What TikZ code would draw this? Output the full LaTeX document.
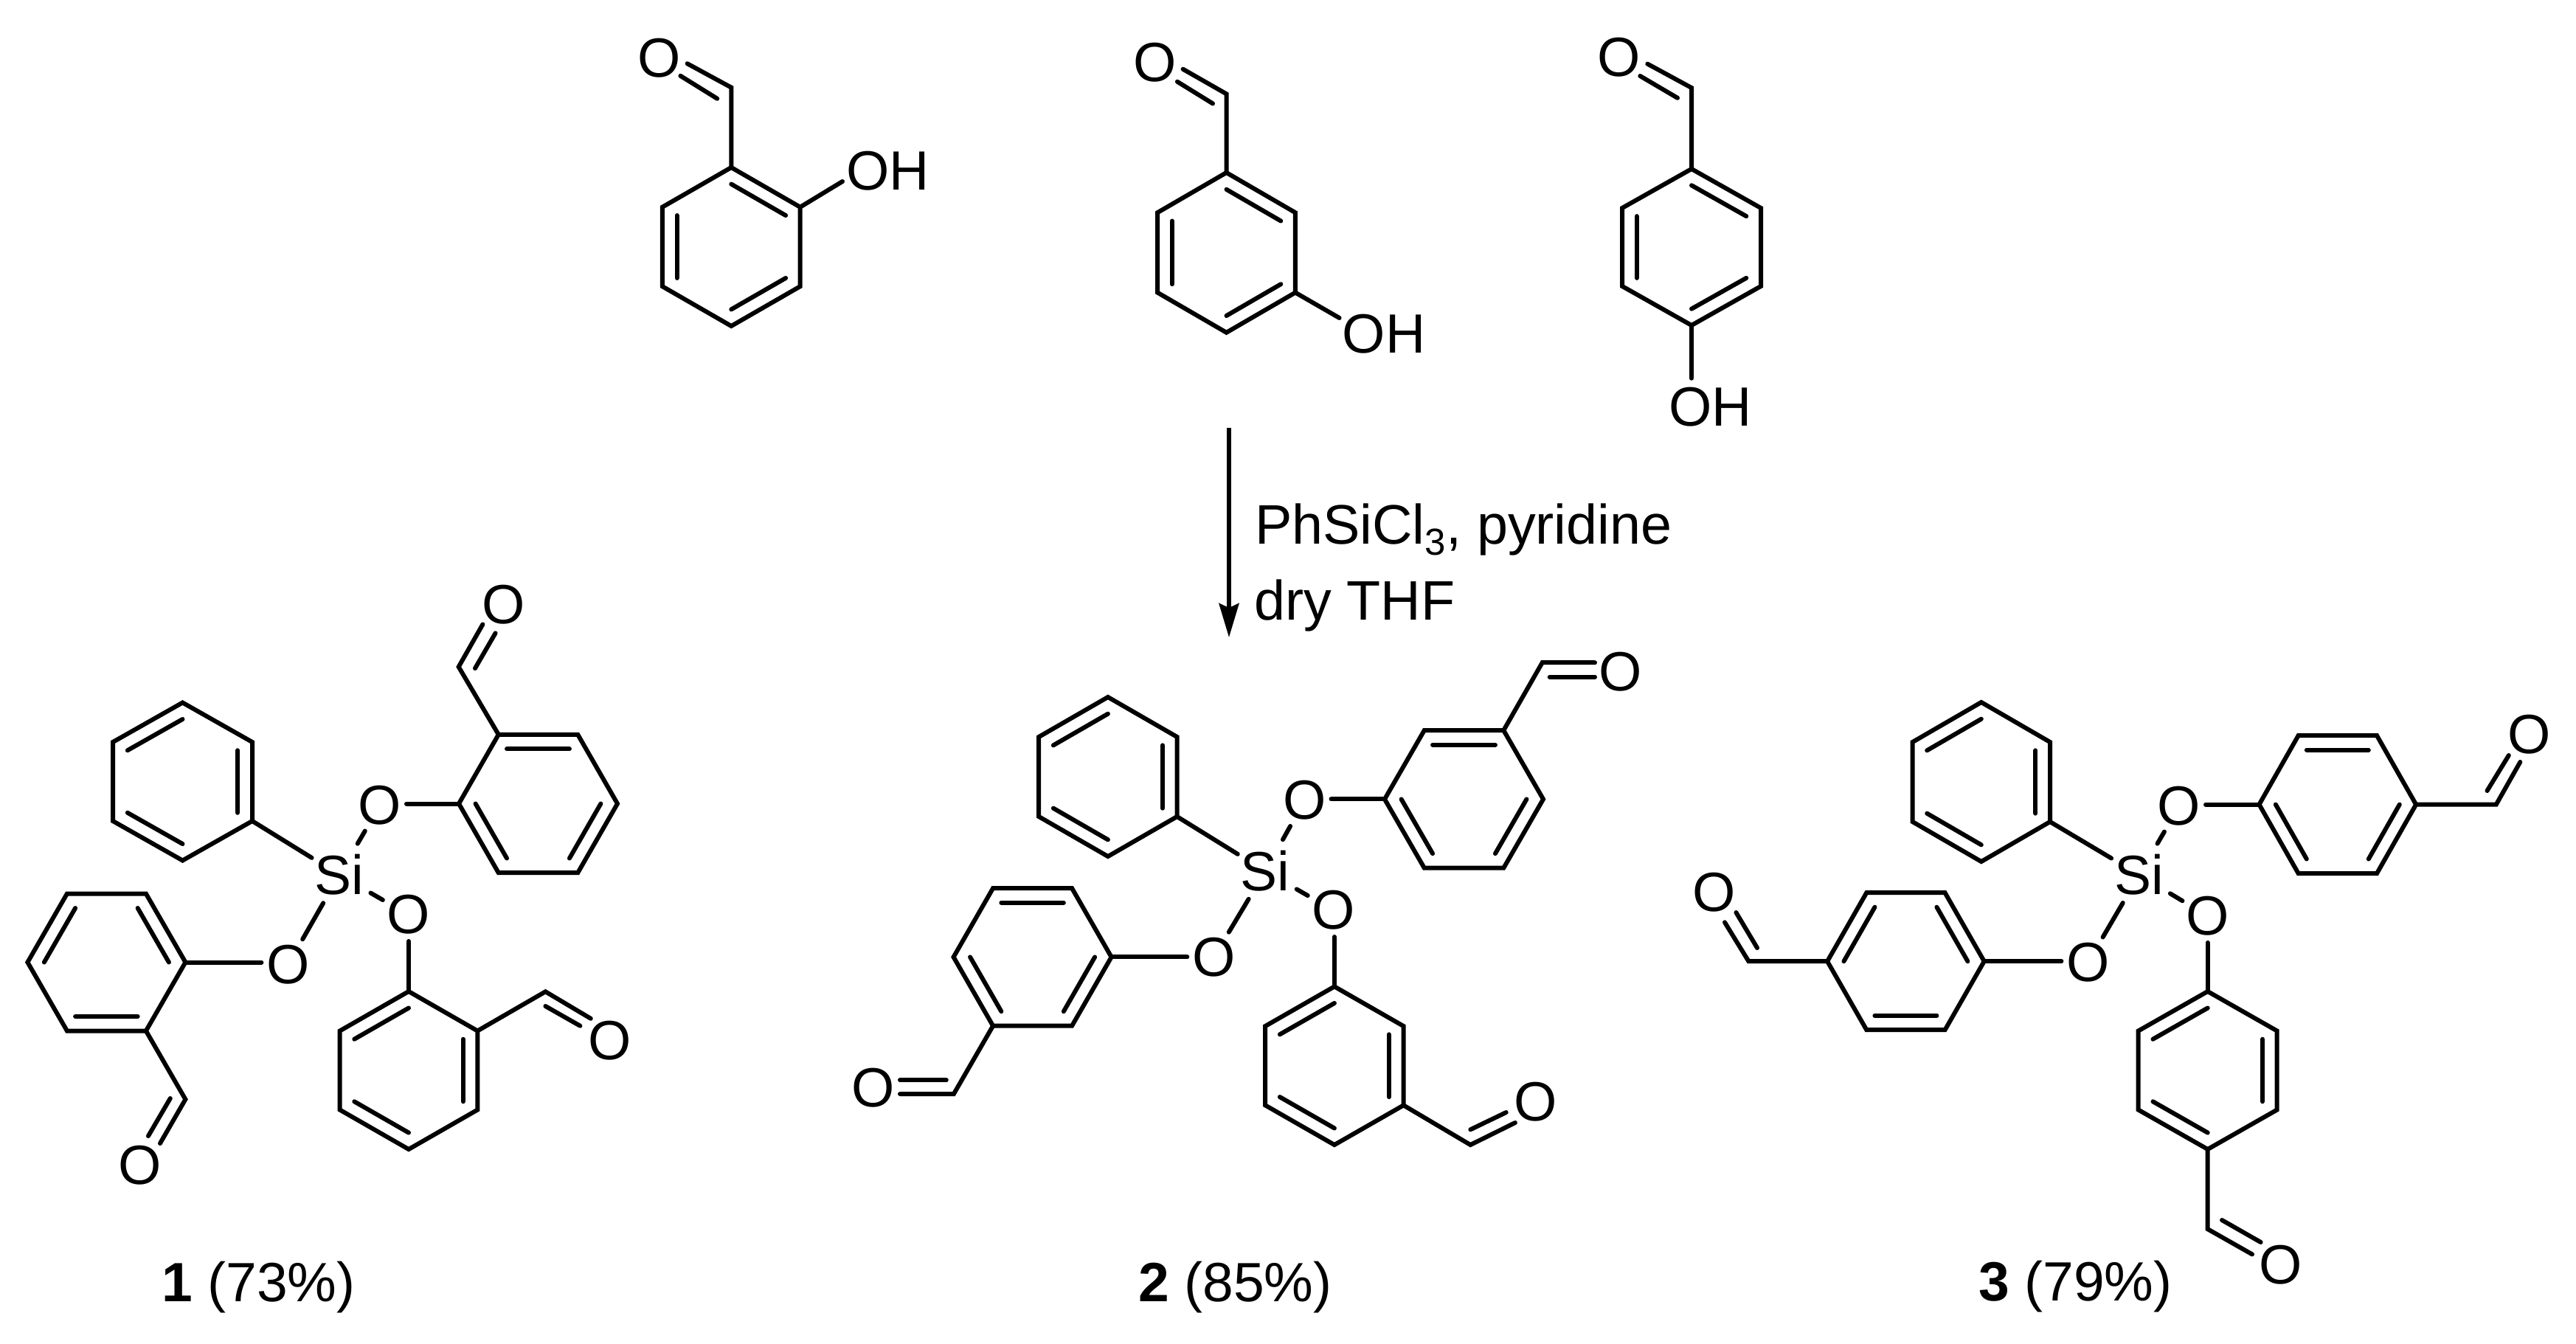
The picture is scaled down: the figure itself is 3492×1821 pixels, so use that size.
\documentclass[tikz,border=0pt]{standalone}
\usepackage{fontspec}
\setmainfont{Liberation Sans}
\usetikzlibrary{calc,arrows.meta}
\tikzset{
  bond/.style={line width=6pt,line cap=round,line join=miter,black},
  sibond/.style={bond,shorten <=49pt,shorten >=40pt},
  phbond/.style={bond,shorten >=44pt},
  arobond/.style={bond,shorten <=36pt},
  atom/.style={inner sep=0pt,outer sep=0pt,font=\fontsize{75}{80}\selectfont},
  caption/.style={inner sep=0pt,outer sep=0pt,anchor=base west,font=\fontsize{75}{80}\selectfont},
  reagent/.style={inner sep=0pt,outer sep=0pt,anchor=base west,font=\fontsize{75.5}{80}\selectfont},
  rxnarrow/.style={line width=5.5pt,-{Stealth[length=46pt,width=27pt,inset=6pt]}}
}
% pointy-top ring: name cx cy halfwidth halfheight
\newcommand{\ringP}[5]{%
  \coordinate (#1c) at (#2,#3);
  \coordinate (#1v1) at (#2,{#3-#5});
  \coordinate (#1v2) at ({#2+#4},{#3-#5/2});
  \coordinate (#1v3) at ({#2+#4},{#3+#5/2});
  \coordinate (#1v4) at (#2,{#3+#5});
  \coordinate (#1v5) at ({#2-#4},{#3+#5/2});
  \coordinate (#1v6) at ({#2-#4},{#3-#5/2});
}
% flat-top ring: name cx cy halfwidth halfheight
\newcommand{\ringF}[5]{%
  \coordinate (#1c) at (#2,#3);
  \coordinate (#1v1) at ({#2-#4/2},{#3-#5});
  \coordinate (#1v2) at ({#2+#4/2},{#3-#5});
  \coordinate (#1v3) at ({#2+#4},#3);
  \coordinate (#1v4) at ({#2+#4/2},{#3+#5});
  \coordinate (#1v5) at ({#2-#4/2},{#3+#5});
  \coordinate (#1v6) at ({#2-#4},#3);
}
\newcommand{\ringdraw}[2]{%
  \draw[bond] (#1v1)--(#1v2)--(#1v3)--(#1v4)--(#1v5)--(#1v6)--cycle;
  \foreach \i/\j in {#2} \draw[bond] ($(#1v\i)!.21!(#1c)$) -- ($(#1v\j)!.21!(#1c)$);
}
% aldehyde: id, ring vertex, C, main end, inner start, inner end, O
\newcommand{\cho}[7]{%
  \coordinate (#1C) at (#3);
  \coordinate (#1E) at (#4);
  \coordinate (#1I) at (#5);
  \coordinate (#1J) at (#6);
  \node[atom] (#1O) at (#7) {O};
  \draw[bond] (#2)--(#1C)--(#1E);
  \draw[bond] (#1I)--(#1J);
}
\begin{document}
\begin{tikzpicture}[x=1pt,y=-1pt]
\useasboundingbox (0,0) rectangle (3492,1821);

% --- reactants ---
\ringP{a}{991.3}{334.5}{93.4}{107.5}
\ringdraw{a}{1/2,3/4,5/6}
\cho{ca}{av1}{991.3,118.6}{931.6,86.2}{972.2,133.7}{922.4,102.8}{893.4,78.3}
\node[atom] (ohA) at (1203.6,231.3) {OH};
\coordinate (ohAe) at (1142,246);
\draw[bond] (av2)--(ohAe);

\ringP{b}{1662.5}{342.4}{93.4}{108.4}
\ringdraw{b}{1/2,3/4,5/6}
\cho{cb}{bv1}{1662.5,127.3}{1603.6,93.7}{1644,140.4}{1595.9,110.7}{1565.3,85}
\node[atom] (ohB) at (1876,452.7) {OH};
\coordinate (ohBe) at (1815.6,431);
\draw[bond] (bv3)--(ohBe);

\ringP{c}{2293}{335}{94}{106}
\ringdraw{c}{1/2,3/4,5/6}
\cho{cc}{cv1}{2293,119}{2233.3,86.6}{2274,132.8}{2223.3,103}{2195,78}
\node[atom] (ohC) at (2318.5,551.8) {OH};
\coordinate (ohCe) at (2293,512.8);
\draw[bond] (cv4)--(ohCe);

% --- arrow and reagents ---
\coordinate (arrS) at (1666,580);
\coordinate (arrE) at (1666,864);
\draw[rxnarrow] (arrS)--(arrE);
\node[reagent] (rg1) at (1701,737) {PhSiCl\raisebox{-15pt}{\fontsize{51}{55}\selectfont 3}, pyridine};
\node[reagent] (rg2) at (1700,840) {dry THF};

% --- product 1 ---
\ringP{d}{247.5}{1059.5}{94.5}{107}
\ringdraw{d}{1/6,2/3,4/5}
\ringF{e}{729.5}{1089.5}{107.5}{93.7}
\ringdraw{e}{1/2,3/4,5/6}
\ringF{f}{144.4}{1304.5}{107}{93}
\ringdraw{f}{1/6,2/3,4/5}
\ringP{g}{554}{1451}{93.3}{107}
\ringdraw{g}{1/6,2/3,4/5}
\node[atom] (si1) at (460,1186) {Si};
\node[atom] (o1a) at (515,1092) {O};
\node[atom] (o1b) at (553.5,1240) {O};
\node[atom] (o1c) at (390.4,1308) {O};
\draw[phbond] (dv3)--(si1.center);
\draw[sibond] (si1.center)--(o1a.center);
\draw[sibond] (si1.center)--(o1b.center);
\draw[sibond,shorten <=44pt] (si1.center)--(o1c.center);
\draw[arobond] (o1a |- ev6)--(ev6);
\draw[arobond] (o1c |- fv3)--(fv3);
\draw[arobond] (o1b -| gv1)--(gv1);
\cho{ce}{ev1}{621.7,904}{654.4,846.4}{644,906}{671.6,858.3}{683,820}
\cho{cf}{fv4}{251.4,1490.3}{217,1550}{230.8,1489}{201,1540}{190,1580}
\cho{cg}{gv2}{739.4,1344.3}{800.8,1380.8}{739.4,1364}{786.4,1390.7}{826.6,1410.6}
\node[caption] (lab1) at (219,1764) {\textbf{1} (73\%)};

% --- product 2 ---
\ringP{h}{1501.9}{1053}{93.7}{108}
\ringdraw{h}{1/6,2/3,4/5}
\ringF{i}{1984.5}{1083.4}{107.5}{93.3}
\ringdraw{i}{1/2,3/4,5/6}
\ringF{j}{1399.6}{1297.4}{107}{93.3}
\ringdraw{j}{1/2,3/4,5/6}
\ringP{k}{1808.9}{1444.7}{93.7}{107.3}
\ringdraw{k}{1/6,2/3,4/5}
\node[atom] (si2) at (1715.2,1181) {Si};
\node[atom] (o2a) at (1768.5,1085) {O};
\node[atom] (o2b) at (1807.4,1234) {O};
\node[atom] (o2c) at (1645.3,1298) {O};
\draw[phbond] (hv3)--(si2.center);
\draw[sibond] (si2.center)--(o2a.center);
\draw[sibond] (si2.center)--(o2b.center);
\draw[sibond,shorten <=44pt] (si2.center)--(o2c.center);
\draw[arobond] (o2a |- iv6)--(iv6);
\draw[arobond] (o2c |- jv3)--(jv3);
\draw[arobond] (o2b -| kv1)--(kv1);
\cho{ci}{iv2}{2090.7,898.2}{2162,898.2}{2100.7,917.6}{2162,917.6}{2196.6,910.7}
\cho{cj}{jv5}{1292.9,1483}{1220,1483}{1220,1464.4}{1282.8,1464.4}{1184,1475}
\cho{ck}{kv3}{1993.3,1552}{2053.9,1522}{1993.3,1531.3}{2041.7,1508}{2081.3,1493.8}
\node[caption] (lab2) at (1543,1764) {\textbf{2} (85\%)};

% --- product 3 ---
\ringP{l}{2685.8}{1060}{93.2}{108}
\ringdraw{l}{1/6,2/3,4/5}
\ringF{m}{3168.8}{1090.6}{106.3}{93.6}
\ringdraw{m}{1/2,3/4,5/6}
\ringF{n}{2583.4}{1303.2}{106.3}{93}
\ringdraw{n}{1/6,2/3,4/5}
\ringP{o}{2992.7}{1451}{94}{107}
\ringdraw{o}{1/6,2/3,4/5}
\node[atom] (si3) at (2899.9,1186) {Si};
\node[atom] (o3a) at (2954,1093) {O};
\node[atom] (o3b) at (2992.7,1241.9) {O};
\node[atom] (o3c) at (2830.4,1305) {O};
\draw[phbond] (lv3)--(si3.center);
\draw[sibond] (si3.center)--(o3a.center);
\draw[sibond] (si3.center)--(o3b.center);
\draw[sibond,shorten <=44pt] (si3.center)--(o3c.center);
\draw[arobond] (o3a |- mv6)--(mv6);
\draw[arobond] (o3c |- nv3)--(nv3);
\draw[arobond] (o3b -| ov1)--(ov1);
\cho{cm}{mv3}{3383.8,1090.6}{3416.3,1033}{3371.5,1072}{3400.8,1024}{3428.7,995.8}
\cho{cn}{nv6}{2370.4,1303.2}{2338,1250.3}{2382,1285}{2353.4,1237}{2324,1210}
\cho{co}{ov4}{2992.7,1666.2}{3053,1700.4}{3012,1654}{3064.6,1684}{3091.6,1714.2}
\node[caption] (lab3) at (2682,1763) {\textbf{3} (79\%)};
\end{tikzpicture}
\end{document}
